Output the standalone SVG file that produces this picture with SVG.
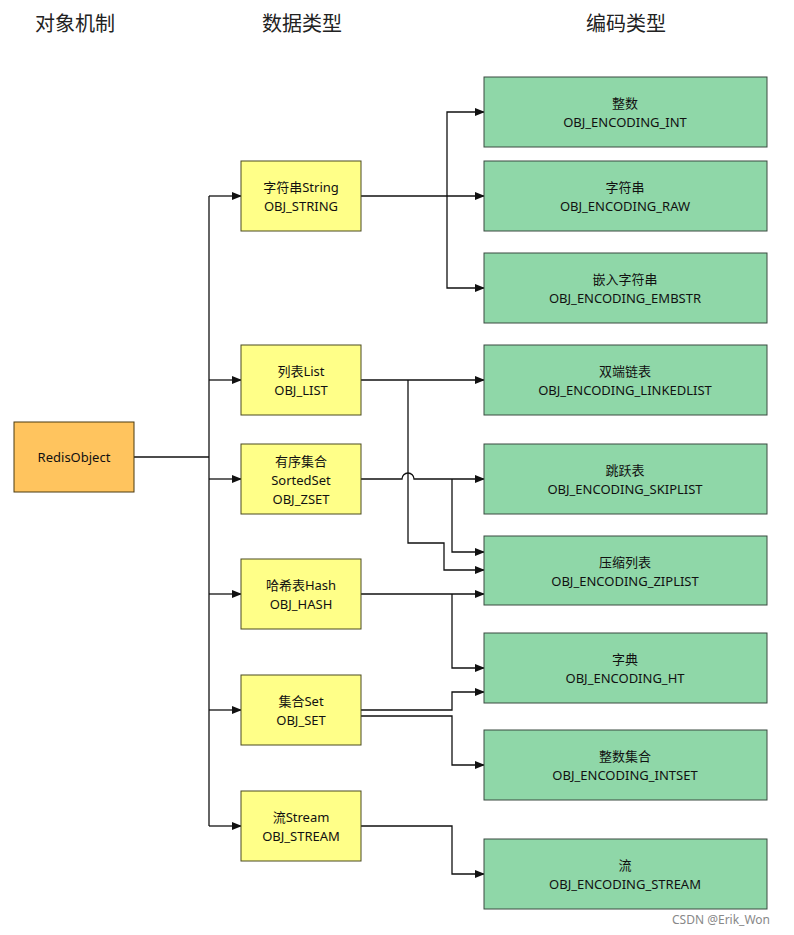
<svg xmlns="http://www.w3.org/2000/svg" width="794" height="935" viewBox="0 0 794 935">
<defs>
<marker id="ah" markerWidth="10" markerHeight="8" refX="9" refY="4" orient="auto" markerUnits="userSpaceOnUse">
<path d="M0,0 L10,4 L0,8 Z" fill="#111"/>
</marker>
<style>
.hdr{font-family:"Noto Sans CJK SC","Noto Sans",sans-serif;font-size:20px;fill:#222;}
.t{font-family:"Noto Sans","Noto Sans CJK SC",sans-serif;font-size:13px;fill:#111;text-anchor:middle;}
.obj{fill:#FFC45E;stroke:#4a3a10;stroke-width:1;}
.dt{fill:#FFFF88;stroke:#4a4a20;stroke-width:1;}
.enc{fill:#8FD7A8;stroke:#3a4a40;stroke-width:1;}
.c{fill:none;stroke:#111;stroke-width:1.3;}
.ca{fill:none;stroke:#111;stroke-width:1.3;marker-end:url(#ah);}
.wm{font-family:"Noto Sans","Noto Sans CJK SC",sans-serif;font-size:12px;fill:#888;}
</style>
</defs>
<rect width="794" height="935" fill="#fff"/>
<text class="hdr" x="35" y="31">对象机制</text>
<text class="hdr" x="262" y="31">数据类型</text>
<text class="hdr" x="586" y="31">编码类型</text>

<g id="connectors">
<path class="c" d="M134,457 H209"/>
<path class="c" d="M209,196 V826"/>
<path class="ca" d="M209,196 H241"/>
<path class="ca" d="M209,380 H241"/>
<path class="ca" d="M209,479 H241"/>
<path class="ca" d="M209,594 H241"/>
<path class="ca" d="M209,710 H241"/>
<path class="ca" d="M209,826 H241"/>

<path class="ca" d="M361,196 H484"/>
<path class="ca" d="M447,196 V112 H484"/>
<path class="ca" d="M447,196 V288 H484"/>

<path class="ca" d="M361,380 H484"/>
<path class="ca" d="M408,380 V543 H444 V570 H484"/>

<path class="ca" d="M361,479 H402 A6,6 0 0 1 414,479 H484"/>
<path class="ca" d="M452,479 V552 H484"/>

<path class="ca" d="M361,594 H484"/>
<path class="ca" d="M452,594 V668 H484"/>

<path class="ca" d="M361,710 H452 V692 H484"/>
<path class="ca" d="M361,716 H452 V765 H484"/>

<path class="ca" d="M361,826 H452 V874 H484"/>
</g>

<g id="RedisObject"><rect class="obj" x="14" y="422" width="120" height="70"/><text class="t" x="74" y="462">RedisObject</text></g>

<g id="String"><rect class="dt" x="241" y="161" width="120" height="70"/><text class="t" x="301" y="192">字符串String</text><text class="t" x="301" y="211">OBJ_STRING</text></g>
<g id="List"><rect class="dt" x="241" y="345" width="120" height="70"/><text class="t" x="301" y="376">列表List</text><text class="t" x="301" y="395">OBJ_LIST</text></g>
<g id="SortedSet"><rect class="dt" x="241" y="444" width="120" height="70"/><text class="t" x="301" y="466">有序集合</text><text class="t" x="301" y="485">SortedSet</text><text class="t" x="301" y="504">OBJ_ZSET</text></g>
<g id="Hash"><rect class="dt" x="241" y="559" width="120" height="70"/><text class="t" x="301" y="590">哈希表Hash</text><text class="t" x="301" y="609">OBJ_HASH</text></g>
<g id="Set"><rect class="dt" x="241" y="675" width="120" height="70"/><text class="t" x="301" y="706">集合Set</text><text class="t" x="301" y="725">OBJ_SET</text></g>
<g id="Stream"><rect class="dt" x="241" y="791" width="120" height="70"/><text class="t" x="301" y="822">流Stream</text><text class="t" x="301" y="841">OBJ_STREAM</text></g>

<g id="EncInt"><rect class="enc" x="484" y="77" width="283" height="70"/><text class="t" x="625" y="108">整数</text><text class="t" x="625" y="127">OBJ_ENCODING_INT</text></g>
<g id="EncRaw"><rect class="enc" x="484" y="161" width="283" height="70"/><text class="t" x="625" y="192">字符串</text><text class="t" x="625" y="211">OBJ_ENCODING_RAW</text></g>
<g id="EncEmbstr"><rect class="enc" x="484" y="253" width="283" height="70"/><text class="t" x="625" y="284">嵌入字符串</text><text class="t" x="625" y="303">OBJ_ENCODING_EMBSTR</text></g>
<g id="EncLinkedlist"><rect class="enc" x="484" y="345" width="283" height="70"/><text class="t" x="625" y="376">双端链表</text><text class="t" x="625" y="395">OBJ_ENCODING_LINKEDLIST</text></g>
<g id="EncSkiplist"><rect class="enc" x="484" y="444" width="283" height="70"/><text class="t" x="625" y="475">跳跃表</text><text class="t" x="625" y="494">OBJ_ENCODING_SKIPLIST</text></g>
<g id="EncZiplist"><rect class="enc" x="484" y="536" width="283" height="69"/><text class="t" x="625" y="567">压缩列表</text><text class="t" x="625" y="586">OBJ_ENCODING_ZIPLIST</text></g>
<g id="EncHT"><rect class="enc" x="484" y="633" width="283" height="70"/><text class="t" x="625" y="664">字典</text><text class="t" x="625" y="683">OBJ_ENCODING_HT</text></g>
<g id="EncIntset"><rect class="enc" x="484" y="730" width="283" height="70"/><text class="t" x="625" y="761">整数集合</text><text class="t" x="625" y="780">OBJ_ENCODING_INTSET</text></g>
<g id="EncStream"><rect class="enc" x="484" y="839" width="283" height="70"/><text class="t" x="625" y="870">流</text><text class="t" x="625" y="889">OBJ_ENCODING_STREAM</text></g>

<text class="wm" x="672" y="924">CSDN @Erik_Won</text>
</svg>
